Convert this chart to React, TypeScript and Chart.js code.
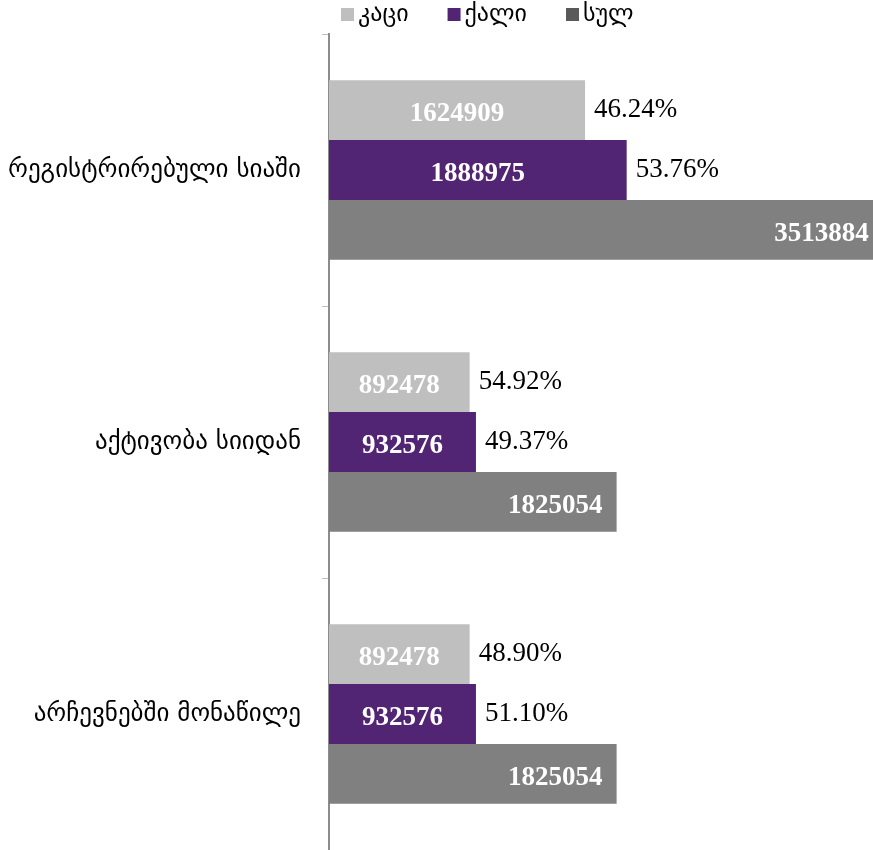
import React, { useEffect, useRef } from "react";
import { Chart, registerables } from "chart.js";

Chart.register(...registerables);

const categories = ["რეგისტრირებული სიაში", "აქტივობა სიიდან", "არჩევნებში მონაწილე"];
const seriesNames = ["კაცი", "ქალი", "სულ"];
const menValues = [1624909, 892478, 892478];
const womenValues = [1888975, 932576, 932576];
const totalValues = [3513884, 1825054, 1825054];
const menPct = [46.24, 54.92, 48.9];
const womenPct = [53.76, 49.37, 51.1];
const xMax = 3452000;

const barColors = ["#BFBFBF", "#522574", "#808080"];
const legendColors = ["#BFBFBF", "#522574", "#595959"];
const NUM_FONT = "'Liberation Serif', 'DejaVu Serif', serif";
const GEO_FONT = "'DejaVu Sans', 'Liberation Serif', sans-serif";

export default function App() {
  const ref = useRef<HTMLCanvasElement | null>(null);

  useEffect(() => {
    if (!ref.current) return;
    const pctSets = [menPct, womenPct, null];

    const labelPlugin = {
      id: "barLabels",
      afterDatasetsDraw(chart: any) {
        const ctx = chart.ctx;
        const area = chart.chartArea;
        ctx.save();
        chart.data.datasets.forEach((ds: any, di: number) => {
          const meta = chart.getDatasetMeta(di);
          meta.data.forEach((bar: any, i: number) => {
            const v = ds.data[i];
            const endX = bar.x;
            const startX = bar.base;
            ctx.textBaseline = "middle";
            ctx.font = "bold 27px " + NUM_FONT;
            ctx.fillStyle = "#FFFFFF";
            if (di === 2) {
              ctx.textAlign = "right";
              ctx.fillText(String(v), endX - 14, bar.y + 4);
            } else {
              ctx.textAlign = "center";
              ctx.fillText(String(v), (startX + Math.min(endX, area.right)) / 2, bar.y + 4);
            }
            const pct = pctSets[di];
            if (pct) {
              ctx.font = "27px " + NUM_FONT;
              ctx.fillStyle = "#000000";
              ctx.textAlign = "left";
              ctx.fillText(pct[i].toFixed(2) + "%", endX + 9, bar.y);
            }
          });
        });
        ctx.restore();
      },
    };

    const legendPlugin = {
      id: "customLegend",
      afterDraw(chart: any) {
        const ctx = chart.ctx;
        ctx.save();
        let x = chart.chartArea.left + 12;
        const y = 15;
        ctx.font = "24px " + GEO_FONT;
        ctx.textBaseline = "middle";
        ctx.textAlign = "left";
        chart.data.datasets.forEach((ds: any, di: number) => {
          ctx.fillStyle = legendColors[di];
          ctx.fillRect(x, y - 7, 13, 13);
          ctx.fillStyle = "#000000";
          const tx = x + 17;
          ctx.fillText(ds.label, tx, y);
          x = tx + ctx.measureText(ds.label).width + 39;
        });
        ctx.restore();
      },
    };

    const chart = new Chart(ref.current, {
      type: "bar",
      data: {
        labels: categories,
        datasets: [
          { label: seriesNames[0], data: menValues, backgroundColor: barColors[0] },
          { label: seriesNames[1], data: womenValues, backgroundColor: barColors[1] },
          { label: seriesNames[2], data: totalValues, backgroundColor: barColors[2] },
        ],
      },
      options: {
        indexAxis: "y",
        animation: false,
        responsive: false,
        maintainAspectRatio: false,
        layout: { padding: { top: 34, left: 0, right: 0, bottom: 0 } },
        datasets: { bar: { barPercentage: 1, categoryPercentage: 0.66 } },
        plugins: {
          legend: { display: false },
          tooltip: { enabled: false },
        },
        scales: {
          x: { display: false, min: 0, max: xMax },
          y: {
            afterFit(scale: any) {
              scale.width = 329;
              scale.paddingTop = 0;
              scale.paddingBottom = 0;
            },
            grid: {
              drawOnChartArea: false,
              drawTicks: true,
              tickLength: 7,
              color: "#BFBFBF",
              offset: true,
            },
            border: { display: true, color: "#8C8C8C", width: 2 },
            ticks: {
              color: "#000000",
              padding: 21,
              font: { family: GEO_FONT, size: 25 },
            },
          },
        },
      },
      plugins: [labelPlugin, legendPlugin],
    });
    return () => chart.destroy();
  }, []);

  return (
    <div style={{ position: "absolute", left: 0, top: 0, width: 873, height: 850, background: "#fff" }}>
      <canvas ref={ref} width={873} height={850} style={{ display: "block" }} />
    </div>
  );
}
